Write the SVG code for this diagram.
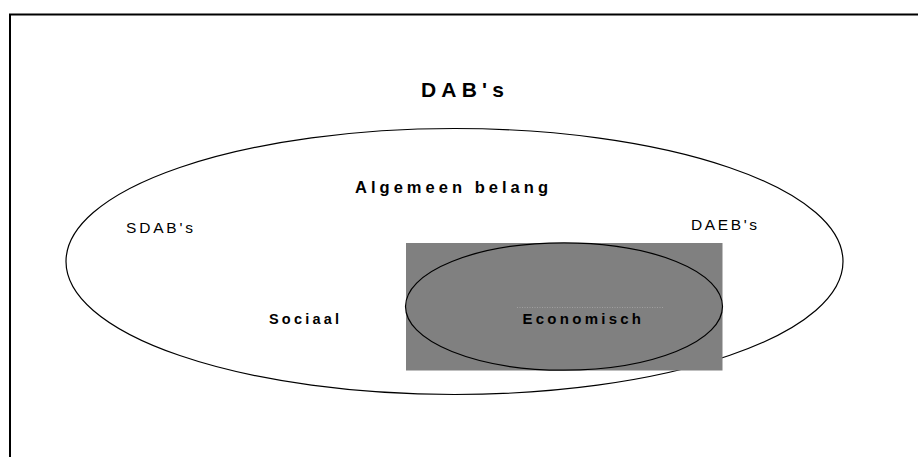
<svg xmlns="http://www.w3.org/2000/svg" width="918" height="457" viewBox="0 0 918 457">
<style>
.t{font-family:"Liberation Sans",Arial,sans-serif;fill:#000}
.b{font-weight:bold}
.line{fill:none;stroke:#000;stroke-width:1.2}
</style>
<rect x="0" y="0" width="918" height="457" fill="#fff"/>
<g id="frame">
<path d="M10,457 V14.5 H918" fill="none" stroke="#000" stroke-width="2"/>
</g>
<g id="title">
<text class="t b" x="421" y="97" font-size="21" textLength="83" lengthAdjust="spacing">DAB's</text>
</g>
<g id="dab-ellipse">
<ellipse class="line" cx="454.5" cy="261.5" rx="388.5" ry="133"/>
<text class="t b" x="355" y="193" font-size="16.5" textLength="193" lengthAdjust="spacing">Algemeen belang</text>
<text class="t" x="126" y="233" font-size="15.5" textLength="67" lengthAdjust="spacing">SDAB's</text>
<text class="t" x="691" y="230" font-size="15.5" textLength="66" lengthAdjust="spacing">DAEB's</text>
<text class="t b" x="269" y="323.5" font-size="14.5" textLength="70" lengthAdjust="spacing">Sociaal</text>
</g>
<g id="economisch">
<rect x="406" y="243" width="316.5" height="127.5" fill="#808080"/>
<ellipse class="line" cx="564" cy="306.5" rx="158.5" ry="63.7"/>
<line x1="517" y1="307.5" x2="664" y2="307.5" stroke="#a8a8a8" stroke-width="0.8" stroke-dasharray="1,1.5"/>
<text class="t b" x="522.5" y="323.5" font-size="15" textLength="118.5" lengthAdjust="spacing">Economisch</text>
</g>
</svg>
